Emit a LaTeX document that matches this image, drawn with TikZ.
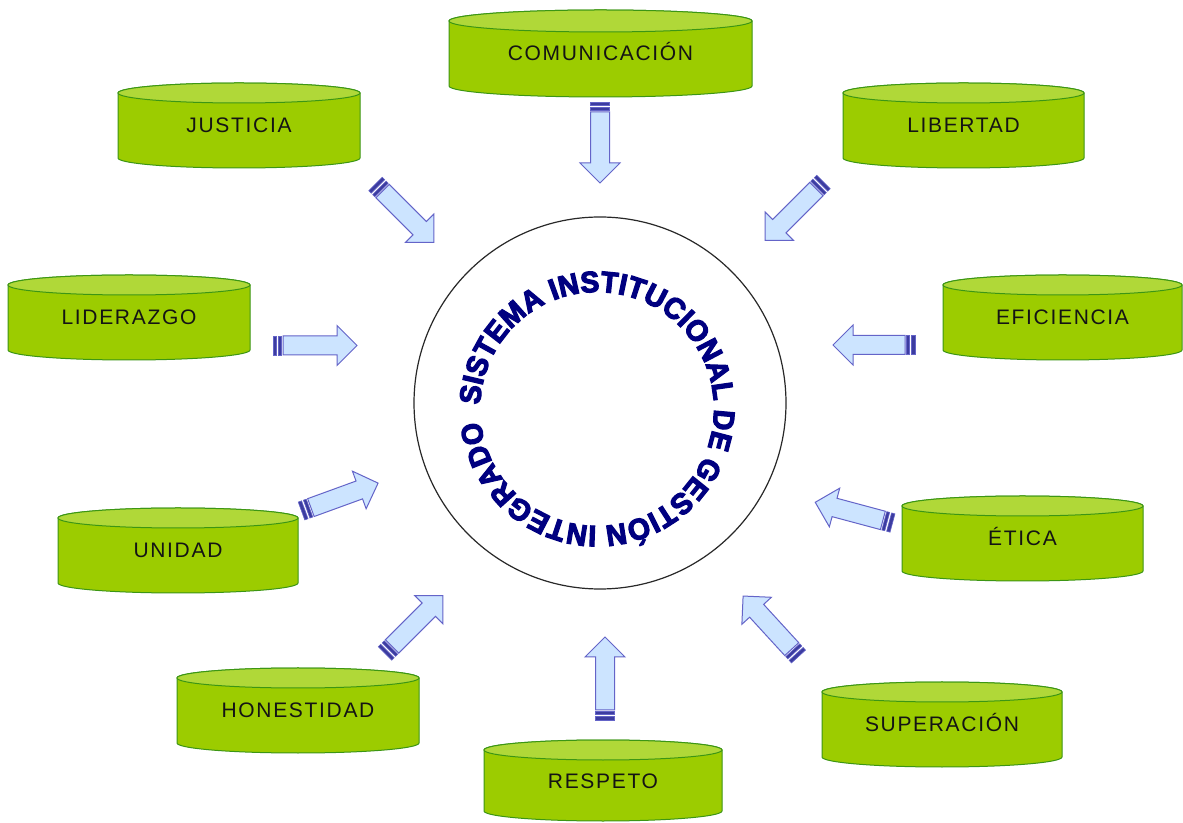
\documentclass[tikz,border=0pt]{standalone}
\usepackage{fontspec}
\setmainfont{Liberation Sans}
\usetikzlibrary{decorations.text}
\newfontfamily\labfont[LetterSpace=8]{Liberation Sans}
\newfontfamily\circfont[FakeStretch=0.96, BoldFeatures={FakeBold=4, FakeStretch=0.96}]{Liberation Sans}
\definecolor{drumbody}{RGB}{156,204,0}
\definecolor{drumtop}{RGB}{176,216,56}
\definecolor{drumline}{RGB}{60,150,20}
\definecolor{arrowfill}{RGB}{204,228,255}
\definecolor{arrowline}{RGB}{100,100,200}
\definecolor{stripefill}{RGB}{60,60,160}
\definecolor{navytext}{RGB}{0,0,128}
\definecolor{labelcol}{RGB}{20,20,20}
\definecolor{circline}{RGB}{40,40,40}
\tikzset{
  drumside/.style={fill=drumbody, draw=drumline, line width=1pt},
  drumcap/.style={fill=drumtop, draw=drumline, line width=1pt},
  drumlabel/.style={font=\labfont\fontsize{21}{21}\selectfont, text=labelcol,
    text height=15pt, text depth=0pt, inner sep=0pt},
  arrowbody/.style={fill=arrowfill, draw=arrowline, line width=1pt, line join=miter},
  arrowstripe/.style={fill=stripefill, draw=arrowline, line width=0.6pt},
  pics/barrow/.style={code={
    \filldraw[arrowbody] (10,-9.5) -- ({#1-20},-9.5) -- ({#1-20},-20) -- (#1,0)
      -- ({#1-20},20) -- ({#1-20},9.5) -- (10,9.5) -- cycle;
    \filldraw[arrowstripe] (0,-9.5) rectangle (3.5,9.5);
    \filldraw[arrowstripe] (5.5,-9.5) rectangle (8.5,9.5);
  }}
}
\newcommand{\drum}[7]{%
  \pgfmathsetmacro\dcx{(#2+#3)/2}%
  \pgfmathsetmacro\drx{(#3-#2)/2}%
  \pgfmathsetmacro\dtc{822-#4-#6}%
  \pgfmathsetmacro\dbc{822-#5+#6}%
  \pgfmathsetmacro\dmid{(\dtc+\dbc)/2}%
  \filldraw[drumside] (#2,\dtc) -- (#2,\dbc)
    arc[start angle=180,end angle=360,x radius=\drx,y radius=#6]
    -- (#3,\dtc) arc[start angle=0,end angle=180,x radius=\drx,y radius=#6] -- cycle;
  \filldraw[drumcap] (\dcx,\dtc) ellipse[x radius=\drx,y radius=#6];
  \node[drumlabel] (#1) at (\dcx,\dmid) {#7};
}
\begin{document}
\begin{tikzpicture}[x=1pt,y=1pt]
\useasboundingbox (0,0) rectangle (1183,822);
\fill[white] (0,0) rectangle (1183,822);

% central circle
\node[draw=circline, line width=1.2pt, circle, minimum size=372pt, inner sep=0pt] (sys) at (600,419) {};
\path[decorate, decoration={text along path,
   text={|\circfont\bfseries\fontsize{29.5}{30}\selectfont\color{navytext}|SISTEMA INSTITUCIONAL DE GESTIÓN INTEGRADO},
   text align={fit to path}}]
   (597,413) ++(178:117) arc[start angle=178,end angle=-174,radius=117];

% drums
\drum{com}{449}{752}{10}{97}{11}{COMUNICACIÓN}
\drum{jus}{118}{360}{83}{168}{10}{JUSTICIA}
\drum{lib}{843}{1084}{83}{168}{10}{LIBERTAD}
\drum{lid}{8}{250}{275}{360}{10}{LIDERAZGO}
\drum{efi}{943}{1182}{275}{360}{10}{EFICIENCIA}
\drum{uni}{58}{298}{508}{593}{10}{UNIDAD}
\drum{eti}{902}{1143}{496}{581}{10}{ÉTICA}
\drum{hon}{177}{419}{668}{753}{10}{HONESTIDAD}
\drum{sup}{822}{1062}{682}{767}{10}{SUPERACIÓN}
\drum{res}{484}{722}{740}{821}{10}{RESPETO}

% arrows
\pic[rotate=-90] at (600,720) {barrow=81};
\pic[rotate=-45] at (375.5,638) {barrow=82.5};
\pic[rotate=-135] at (823.5,640) {barrow=82.5};
\pic[rotate=0] at (273,476.5) {barrow=84};
\pic[rotate=180] at (915,477) {barrow=82};
\pic[rotate=20] at (301.5,311) {barrow=81.5};
\pic[rotate=45] at (385,168.5) {barrow=82};
\pic[rotate=165] at (892.5,299) {barrow=80};
\pic[rotate=132.5] at (798.5,165.5) {barrow=82};
\pic[rotate=90] at (605,102) {barrow=83};
\end{tikzpicture}
\end{document}
